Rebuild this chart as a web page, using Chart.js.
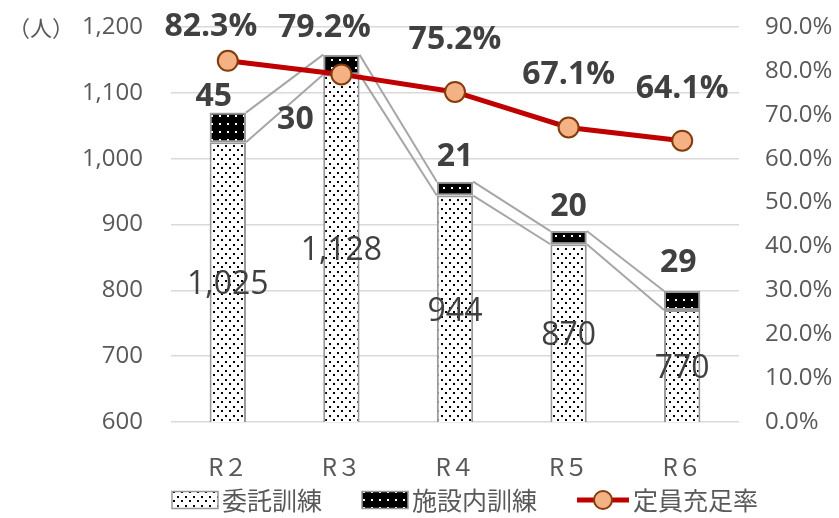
<!DOCTYPE html>
<html>
<head>
<meta charset="utf-8">
<script src="https://cdn.jsdelivr.net/npm/chart.js@4.4.1/dist/chart.umd.min.js"></script>
<style>
  html, body { margin: 0; padding: 0; background: #fff; }
  #wrap { width: 839px; height: 518px; }
</style>
</head>
<body>
<div id="wrap"><canvas id="myChart"></canvas></div>
<script>
var categories = ["R２", "R３", "R４", "R５", "R６"];
var itakuValues = [1025, 1128, 944, 870, 770];      // 委託訓練
var shisetsuValues = [45, 30, 21, 20, 29];           // 施設内訓練
var rateValues = [82.3, 79.2, 75.2, 67.1, 64.1];     // 定員充足率 (%)
var seriesNames = ["委託訓練", "施設内訓練", "定員充足率"];

var NUM_FONT = "'Open Sans', 'Noto Sans', sans-serif";
var JP_FONT = "'Noto Sans CJK JP', 'Open Sans', sans-serif";
var TEXT_DARK = "#404040";
var TEXT_GRAY = "#595959";

// label nudges (px), the reference has some labels dragged by hand
var upperLabelShift = [[-14, -16], [-46, 65], [0, -25], [0, -24], [-4, -28]];
var rateLabelShift = [[-17, -34], [-17, -47], [0, -52], [0, -53], [0, -52]];

function dotPattern(bg, dot, w, h, points) {
    var c = document.createElement("canvas");
    c.width = w;
    c.height = h;
    var x = c.getContext("2d");
    x.fillStyle = bg;
    x.fillRect(0, 0, w, h);
    x.fillStyle = dot;
    points.forEach(function(p) {
        x.fillRect(p[0], p[1], 2, 2);
    });
    return x.createPattern(c, "repeat");
}

var lightDots = dotPattern("#ffffff", "#000000", 8, 9, [[1, 1], [5, 5]]);
var darkDots = dotPattern("#000000", "#ffffff", 8, 8, [[3, 3]]);

var fmt = function(v) {
    return v.toLocaleString("en-US");
};

// gray connector lines between bar tops (Excel "series lines")
var seriesLinesPlugin = {
    id: "seriesLines",
    beforeDatasetsDraw: function(chart) {
        var ctx = chart.ctx;
        var m0 = chart.getDatasetMeta(0).data;
        var m1 = chart.getDatasetMeta(1).data;
        ctx.save();
        ctx.strokeStyle = "#a6a6a6";
        ctx.lineWidth = 2;
        [m0, m1].forEach(function(bars) {
            for (var i = 0; i < bars.length - 1; i++) {
                var a = bars[i], b = bars[i + 1];
                ctx.beginPath();
                ctx.moveTo(a.x + a.width / 2, a.y);
                ctx.lineTo(b.x - b.width / 2, b.y);
                ctx.stroke();
            }
        });
        ctx.restore();
    }
};

var labelsPlugin = {
    id: "valueLabels",
    afterDatasetsDraw: function(chart) {
        var ctx = chart.ctx;
        var yScale = chart.scales.y;
        var m0 = chart.getDatasetMeta(0).data;
        var m1 = chart.getDatasetMeta(1).data;
        var m2 = chart.getDatasetMeta(2).data;
        ctx.save();
        ctx.textAlign = "center";
        ctx.textBaseline = "middle";
        ctx.fillStyle = TEXT_DARK;

        // lower segment: middle of the visible part
        ctx.font = "32px " + NUM_FONT;
        m0.forEach(function(bar, i) {
            var mid = yScale.getPixelForValue((yScale.min + itakuValues[i]) / 2);
            ctx.fillText(fmt(itakuValues[i]), bar.x, mid + 3);
        });

        ctx.font = "bold 32px " + NUM_FONT;
        m1.forEach(function(bar, i) {
            var s = upperLabelShift[i];
            ctx.fillText(fmt(shisetsuValues[i]), bar.x + s[0], bar.y + s[1]);
        });

        m2.forEach(function(pt, i) {
            var s = rateLabelShift[i];
            ctx.fillText(rateValues[i].toFixed(1) + "%", pt.x + s[0], pt.y + s[1]);
        });
        ctx.restore();
    }
};

var extrasPlugin = {
    id: "extras",
    afterDraw: function(chart) {
        var ctx = chart.ctx;
        var area = chart.chartArea;
        ctx.save();
        // unit label
        ctx.fillStyle = TEXT_GRAY;
        ctx.font = "22px " + JP_FONT;
        ctx.textAlign = "left";
        ctx.textBaseline = "middle";
        ctx.fillText("（人）", 8, area.top + 1);

        // legend
        ctx.font = "25px " + JP_FONT;
        var boxW = 46, boxH = 17, gap = 4, itemGap = 40, lineW = 52;
        var widths = seriesNames.map(function(n) { return ctx.measureText(n).width; });
        var total = boxW + gap + widths[0] + itemGap + boxW + gap + widths[1] + itemGap + lineW + gap + widths[2];
        var x = 465 - total / 2;
        var y = 500;

        ctx.fillStyle = lightDots;
        ctx.fillRect(x, y - boxH / 2, boxW, boxH);
        ctx.strokeStyle = "#999999";
        ctx.lineWidth = 1.5;
        ctx.strokeRect(x, y - boxH / 2, boxW, boxH);
        x += boxW + gap;
        ctx.fillStyle = TEXT_GRAY;
        ctx.fillText(seriesNames[0], x, y);
        x += widths[0] + itemGap;

        ctx.fillStyle = darkDots;
        ctx.fillRect(x, y - boxH / 2, boxW, boxH);
        ctx.strokeRect(x, y - boxH / 2, boxW, boxH);
        x += boxW + gap;
        ctx.fillStyle = TEXT_GRAY;
        ctx.fillText(seriesNames[1], x, y);
        x += widths[1] + itemGap;

        ctx.strokeStyle = "#c00000";
        ctx.lineWidth = 5;
        ctx.beginPath();
        ctx.moveTo(x, y);
        ctx.lineTo(x + lineW, y);
        ctx.stroke();
        ctx.beginPath();
        ctx.arc(x + lineW / 2, y, 9, 0, Math.PI * 2);
        ctx.fillStyle = "#f4b183";
        ctx.fill();
        ctx.strokeStyle = "#843c0c";
        ctx.lineWidth = 2;
        ctx.stroke();
        x += lineW + gap;
        ctx.fillStyle = TEXT_GRAY;
        ctx.fillText(seriesNames[2], x, y);
        ctx.restore();
    }
};

// fixed axis box sizes so the plot area lands where the reference has it
function fitVertical(width) {
    return function(s) {
        s.width = width;
        s.paddingTop = 27;
        s.paddingBottom = 0;
    };
}

var config = {
    type: "bar",
    data: {
        labels: categories,
        datasets: [{
            label: seriesNames[0],
            data: itakuValues,
            backgroundColor: lightDots,
            borderColor: "#999999",
            borderWidth: 2,
            borderSkipped: false,
            yAxisID: "y",
            order: 1
        }, {
            label: seriesNames[1],
            data: shisetsuValues,
            backgroundColor: darkDots,
            borderColor: "#999999",
            borderWidth: 2,
            borderSkipped: false,
            yAxisID: "y",
            order: 1
        }, {
            type: "line",
            label: seriesNames[2],
            data: rateValues,
            borderColor: "#c00000",
            borderWidth: 5,
            pointRadius: 10,
            pointHoverRadius: 10,
            pointBackgroundColor: "#f4b183",
            pointBorderColor: "#843c0c",
            pointBorderWidth: 2,
            tension: 0,
            yAxisID: "y1",
            order: 0
        }]
    },
    options: {
        responsive: true,
        maintainAspectRatio: false,
        animation: false,
        layout: { padding: { top: 0, bottom: 38, left: 0, right: 0 } },
        datasets: { bar: { categoryPercentage: 1, barPercentage: 0.32 } },
        plugins: {
            legend: { display: false },
            tooltip: { enabled: false }
        },
        scales: {
            x: {
                stacked: true,
                grid: { display: false },
                border: { display: false },
                ticks: {
                    color: TEXT_GRAY,
                    font: { family: JP_FONT, size: 24 },
                    padding: 22
                },
                afterFit: function(s) { s.height = 58; }
            },
            y: {
                stacked: true,
                min: 600,
                max: 1200,
                ticks: {
                    stepSize: 100,
                    color: TEXT_GRAY,
                    font: { family: NUM_FONT, size: 24 },
                    padding: 28,
                    callback: function(v) { return fmt(v); }
                },
                grid: { color: "#d9d9d9", lineWidth: 1.5, drawTicks: false },
                border: { display: false },
                afterFit: fitVertical(171)
            },
            y1: {
                position: "right",
                min: 0,
                max: 90,
                ticks: {
                    stepSize: 10,
                    color: TEXT_GRAY,
                    font: { family: NUM_FONT, size: 24 },
                    padding: 26,
                    callback: function(v) { return v.toFixed(1) + "%"; }
                },
                grid: { display: false, drawTicks: false },
                border: { display: false },
                afterFit: fitVertical(100)
            }
        }
    },
    plugins: [seriesLinesPlugin, labelsPlugin, extrasPlugin]
};

new Chart(document.getElementById("myChart").getContext("2d"), config);
</script>
</body>
</html>
